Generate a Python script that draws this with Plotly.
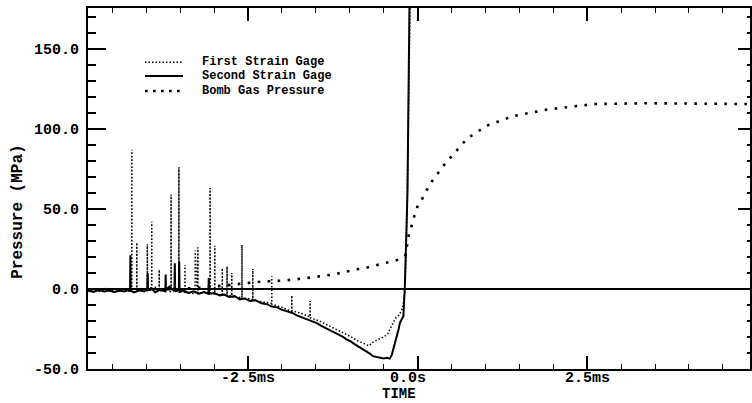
import plotly.graph_objects as go

# ---------------- data ----------------
# Second strain gage (solid line)
t_second = [-4.86, -4.78, -4.70, -4.62, -4.55, -4.47, -4.40, -4.33, -4.27, -4.24, -4.235, -4.23,
            -4.18, -4.10, -4.03, -3.985, -3.98, -3.975, -3.93, -3.87, -3.80, -3.72, -3.715, -3.71,
            -3.66, -3.60, -3.585, -3.58, -3.575, -3.52, -3.515, -3.51, -3.45, -3.38, -3.30, -3.22,
            -3.15, -3.085, -3.08, -3.075, -3.00, -2.92, -2.85, -2.78, -2.70, -2.62, -2.55, -2.47,
            -2.40, -2.30, -2.22, -2.15, -2.07, -2.00, -1.92, -1.85, -1.78, -1.73, -1.66, -1.60,
            -1.53, -1.48, -1.42, -1.35, -1.30, -1.25, -1.18, -1.10, -1.05, -1.00, -0.93, -0.87,
            -0.80, -0.74, -0.70, -0.66, -0.60, -0.55, -0.50, -0.45, -0.41, -0.38, -0.36, -0.33,
            -0.30, -0.28, -0.26, -0.23, -0.21, -0.20, -0.19, -0.17, -0.15, -0.12, 4.90]
p_second = [-1.0, -1.8, -0.6, -1.5, -0.8, -2.0, -1.0, -1.6, -0.8, -1.2, 21.0, -1.0,
            -2.2, -0.8, -1.5, -0.5, 10.0, -1.0, 0.5, -2.0, -0.5, -1.5, 9.0, -0.5,
            1.5, -1.0, 0.5, 16.0, -1.5, 0.0, 17.0, -2.0, -1.0, -2.5, -1.5, -3.0,
            -2.0, -3.0, 7.0, -3.0, -2.5, -4.0, -3.5, -5.0, -4.5, -6.5, -6.0, -7.5,
            -7.0, -9.0, -9.5, -11.0, -11.5, -13.0, -14.0, -15.0, -16.5, -17.5, -18.5, -19.5,
            -20.5, -21.5, -23.0, -24.5, -25.5, -26.5, -28.5, -30.0, -31.5, -32.5, -34.5, -36.0,
            -37.5, -39.0, -40.5, -42.0, -42.5, -43.0, -43.5, -43.0, -43.5, -41.0, -38.0, -34.0,
            -29.0, -25.0, -21.0, -18.5, -17.0, -8.0, 0.0, 30.0, 60.0, 180.0, 180.0]

# First strain gage (fine dotted line)
t_first = [-4.86, -4.75, -4.62, -4.50, -4.38, -4.25, -4.215, -4.214, -4.213, -4.17, -4.141, -4.14,
           -4.139, -4.06, -3.986, -3.985, -3.984, -3.921, -3.92, -3.919, -3.87, -3.811, -3.81, -3.809,
           -3.72, -3.636, -3.635, -3.634, -3.521, -3.52, -3.519, -3.431, -3.43, -3.429, -3.281, -3.28,
           -3.25, -3.241, -3.24, -3.239, -3.15, -3.061, -3.06, -3.059, -2.991, -2.99, -2.989, -2.881,
           -2.88, -2.879, -2.811, -2.81, -2.809, -2.741, -2.74, -2.739, -2.66, -2.591, -2.59, -2.589,
           -2.50, -2.431, -2.43, -2.429, -2.30, -2.151, -2.15, -2.149, -2.00, -1.856, -1.855, -1.854,
           -1.70, -1.586, -1.585, -1.584, -1.45, -1.30, -1.15, -1.00, -0.90, -0.80, -0.72, -0.65,
           -0.58, -0.50, -0.44, -0.40, -0.36, -0.32, -0.27, -0.22, -0.19, -0.16, -0.13, -0.11, 4.90]
p_first = [0.0, -1.0, 0.5, -1.0, 0.0, -1.5, -1.0, 87.0, -1.0, 0.0, -1.0, 29.0,
           -1.5, 0.5, -1.0, 28.0, 0.0, -1.0, 42.0, -1.0, 1.0, -1.0, 12.0, -1.5,
           0.0, -2.0, 59.0, 0.0, -2.0, 76.0, -1.0, -2.0, 15.0, -2.0, -3.0, 24.0,
           -2.0, -2.0, 26.0, -3.0, -2.0, -3.0, 63.0, -2.5, -3.0, 27.0, -3.0, -4.0,
           13.0, -3.5, -4.0, 14.0, -4.5, -4.0, 10.0, -5.0, -5.0, -5.5, 27.5, -6.0,
           -6.0, -6.5, 12.5, -7.0, -8.0, -9.0, 8.0, -9.5, -11.5, -14.0, -4.0, -13.5,
           -15.5, -17.5, -7.5, -18.0, -20.0, -23.0, -26.0, -29.5, -32.0, -34.0, -35.5, -33.0,
           -31.5, -30.0, -28.0, -24.0, -21.0, -18.0, -16.0, -12.0, -2.0, 40.0, 120.0, 180.0, 180.0]

# Bomb gas pressure (sparse dotted line)
t_bomb = [-4.86, -4.40, -4.00, -3.50, -3.00, -2.50, -2.30, -2.08, -1.83, -1.59, -1.29, -1.10,
          -0.90, -0.80, -0.60, -0.40, -0.26, -0.18, -0.15, -0.13, -0.08, -0.04, 0.01, 0.07,
          0.18, 0.40, 0.73, 1.02, 1.41, 1.90, 2.60, 3.38, 4.90]
p_bomb = [-1.0, -1.0, -0.5, 0.0, 1.5, 3.5, 4.6, 5.0, 5.8, 7.1, 8.75, 10.3,
          12.3, 12.8, 15.0, 16.9, 18.5, 21.0, 28.0, 34.0, 40.6, 47.0, 53.0, 56.5,
          65.5, 78.0, 94.0, 102.0, 108.0, 112.0, 115.5, 116.0, 115.5]

series_names = ["First Strain Gage", "Second Strain Gage", "Bomb Gas Pressure"]

x_tickvals = [-2.5, 0.0, 2.5]
x_ticktext = ["-2.5ms", "0.0s", "2.5ms"]
x_label_shift = [0, -10, 0]   # the original prints "0.0s" a little left of its tick
y_tickvals = [-50, 0, 50, 100, 150]
y_ticktext = ["-50.0", "0.0", "50.0", "100.0", "150.0"]

X_RANGE = [-4.86, 4.90]
Y_RANGE = [-50, 175.5]

# ---------------- figure ----------------
FONT = "Liberation Mono"
FIRST_DASH = "1.5px,2px"
BOMB_DASH = "2.6px,7.4px"
fig = go.Figure()

fig.add_trace(go.Scatter(x=t_first, y=p_first, mode="lines", name=series_names[0],
                         line=dict(color="black", width=1.5, dash=FIRST_DASH), showlegend=False))
fig.add_trace(go.Scatter(x=t_second, y=p_second, mode="lines", name=series_names[1],
                         line=dict(color="black", width=2), showlegend=False))
fig.add_trace(go.Scatter(x=t_bomb, y=p_bomb, mode="lines", name=series_names[2],
                         line=dict(color="black", width=2.6, dash=BOMB_DASH), showlegend=False))
# helper (empty) trace so the mirrored top/right axes exist
fig.add_trace(go.Scatter(x=[None], y=[None], xaxis="x2", yaxis="y2", showlegend=False,
                         hoverinfo="skip"))

tickfont = dict(family=FONT, size=15, color="black", weight="bold")

fig.update_layout(
    width=752, height=403,
    margin=dict(l=88, r=2, t=8, b=34),
    paper_bgcolor="white", plot_bgcolor="white",
    xaxis=dict(range=X_RANGE, tickvals=x_tickvals, ticks="inside", showticklabels=False,
               ticklen=13, tickwidth=1.5, tickcolor="black",
               minor=dict(dtick=0.5, tick0=0, ticks="inside", ticklen=5, tickwidth=1.3,
                          tickcolor="black", showgrid=False),
               showline=True, linewidth=2, linecolor="black", showgrid=False, zeroline=False),
    xaxis2=dict(range=X_RANGE, overlaying="x", side="top", anchor="y", tickvals=x_tickvals,
                ticks="inside", ticklen=13, tickwidth=1.5, tickcolor="black",
                minor=dict(dtick=0.5, tick0=0, ticks="inside", ticklen=5, tickwidth=1.3,
                           tickcolor="black", showgrid=False),
                showticklabels=False, showline=True, linewidth=2, linecolor="black",
                showgrid=False, zeroline=False),
    yaxis=dict(range=Y_RANGE, tickvals=y_tickvals, ticktext=y_ticktext, ticks="inside",
               ticklen=18, tickwidth=2, tickcolor="black",
               minor=dict(dtick=10, tick0=0, ticks="inside", ticklen=8, tickwidth=1.5,
                          tickcolor="black", showgrid=False),
               showline=True, linewidth=2, linecolor="black", showgrid=False,
               zeroline=True, zerolinecolor="black", zerolinewidth=2,
               tickfont=tickfont, ticklabelstandoff=4),
    yaxis2=dict(range=Y_RANGE, overlaying="y", side="right", anchor="x", tickvals=y_tickvals,
                ticks="inside", ticklen=12, tickwidth=2, tickcolor="black",
                minor=dict(dtick=10, tick0=0, ticks="inside", ticklen=3, tickwidth=1.5,
                           tickcolor="black", showgrid=False),
                showticklabels=False, showline=True, linewidth=2, linecolor="black",
                showgrid=False, zeroline=False),
)

# x tick labels as text placed at the tick values
for val, txt, sh in zip(x_tickvals, x_ticktext, x_label_shift):
    fig.add_annotation(text=txt, xref="x", yref="paper", x=val, y=-0.0265, xshift=sh,
                       xanchor="center", yanchor="middle", showarrow=False, font=tickfont,
                       borderpad=0)

# axis titles
fig.add_annotation(text="Pressure (MPa)", xref="paper", yref="paper", x=-0.106, y=0.435,
                   xanchor="center", yanchor="middle", textangle=-90, showarrow=False,
                   font=dict(family=FONT, size=16, color="black", weight="bold"))
fig.add_annotation(text="TIME", xref="paper", yref="paper", x=0.4705, y=-0.0942,
                   xanchor="center", yanchor="bottom", showarrow=False, borderpad=0,
                   font=dict(family=FONT, size=14, color="black", weight="bold"))

# hand-drawn legend (compact like the original)
legend_rows = [0.850, 0.8116, 0.770]
legend_styles = [dict(width=1.5, dash=FIRST_DASH), dict(width=2.2, dash="solid"),
                 dict(width=2.6, dash="2.6px,5.4px")]
for name, yy, st in zip(series_names, legend_rows, legend_styles):
    fig.add_shape(type="line", xref="paper", yref="paper", x0=0.0861, x1=0.1435, y0=yy, y1=yy,
                  line=dict(color="black", **st))
    fig.add_annotation(text=name, xref="paper", yref="paper", x=0.1692, y=yy, xanchor="left",
                       yanchor="middle", showarrow=False,
                       font=dict(family=FONT, size=12, color="black", weight="bold"))

fig.write_html("out.html")
